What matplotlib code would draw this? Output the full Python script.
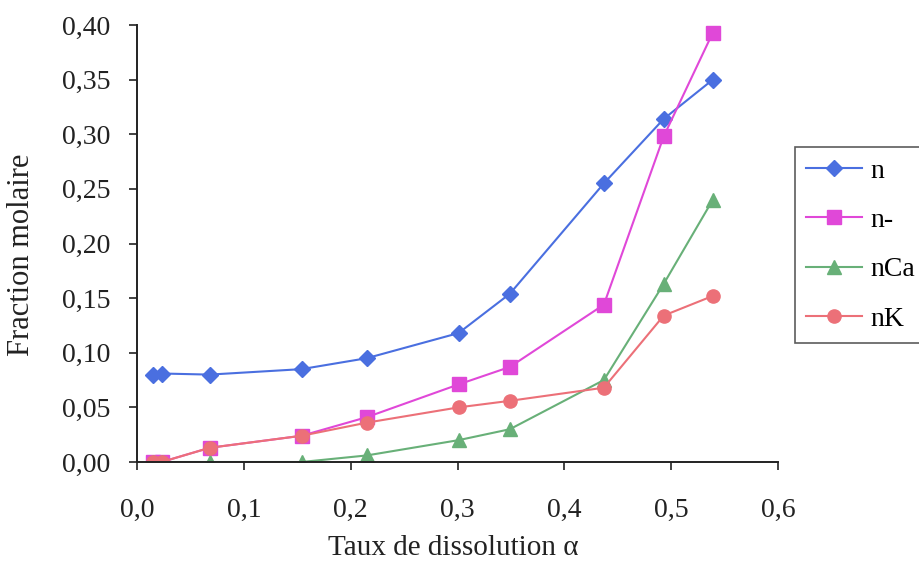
import matplotlib
matplotlib.use("Agg")
import matplotlib.pyplot as plt
from matplotlib.ticker import FuncFormatter, MultipleLocator

plt.rcParams['font.family'] = ['Liberation Serif', 'DejaVu Serif']

# Taux de dissolution
alpha = [0.015, 0.023, 0.068, 0.154, 0.215, 0.301, 0.349, 0.437, 0.493, 0.539]

# Fractions molaires
n = [0.080, 0.081, 0.080, 0.085, 0.095, 0.118, 0.154, 0.255, 0.314, 0.350]
n_minus = [0.000, 0.000, 0.013, 0.024, 0.041, 0.071, 0.087, 0.144, 0.298, 0.393]
n_ca = [0.000, 0.000, 0.000, 0.000, 0.006, 0.020, 0.030, 0.075, 0.163, 0.240]
n_k = [0.000, 0.000, 0.013, 0.024, 0.036, 0.050, 0.056, 0.068, 0.134, 0.152]

series_labels = ["n", "n-", "nCa", "nK"]

W, H = 920, 575
fig = plt.figure(figsize=(W / 100, H / 100), dpi=100)
ax = fig.add_axes([137 / W, 1 - 462 / H, (778 - 137) / W, (462 - 25) / H])

ax.plot(alpha, n, color='#4a6fe0', marker='D', markersize=8.5, lw=1.5,
        label=series_labels[0])
ax.plot(alpha, n_minus, color='#e048d8', marker='s', markersize=9.5, lw=1.5,
        label=series_labels[1])
ax.plot(alpha, n_ca, color='#68b078', marker='^', markersize=10, lw=1.5,
        label=series_labels[2])
ax.plot(alpha, n_k, color='#ec7078', marker='o', markersize=9.5, lw=1.5,
        label=series_labels[3])

ax.set_xlim(0, 0.6)
ax.set_ylim(0, 0.40)
ax.xaxis.set_major_locator(MultipleLocator(0.1))
ax.yaxis.set_major_locator(MultipleLocator(0.05))
ax.xaxis.set_major_formatter(FuncFormatter(lambda v, p: f"{v:.1f}".replace('.', ',')))
ax.yaxis.set_major_formatter(FuncFormatter(lambda v, p: f"{v:.2f}".replace('.', ',')))

for s in ['top', 'right']:
    ax.spines[s].set_visible(False)
for s in ['left', 'bottom']:
    ax.spines[s].set_color('#222222')
    ax.spines[s].set_linewidth(1.4)

ax.tick_params(axis='both', direction='out', length=6, width=1.2,
               labelsize=20, colors='#222222')
ax.tick_params(axis='x', pad=20)
ax.tick_params(axis='y', pad=13)

# Axis titles placed in figure pixels
fig.text(453 / W, 1 - 548 / H, "Taux de dissolution α", fontsize=21,
         ha='center', va='center', color='#222222')
fig.text(22 / W, 1 - 255 / H, "Fraction molaire", fontsize=22, rotation=90,
         ha='center', va='center', color='#222222')

leg = ax.legend(loc='upper left', bbox_to_anchor=(795 / W, 1 - 147 / H),
                bbox_transform=fig.transFigure, borderaxespad=0,
                fontsize=20, frameon=True, fancybox=False,
                edgecolor='#333333', handlelength=2.0, labelspacing=0.86,
                borderpad=0.4, handletextpad=0.3)
leg.get_frame().set_linewidth(1.2)

fig.savefig("out.png", dpi=100)
